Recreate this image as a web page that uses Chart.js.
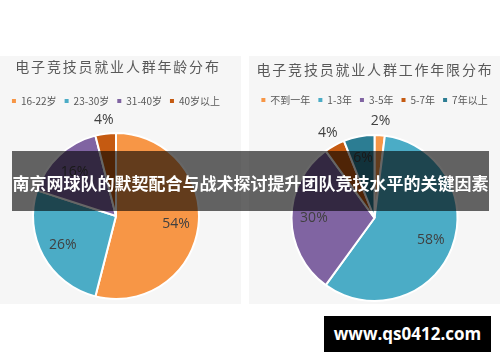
<!DOCTYPE html>
<html>
<head>
<meta charset="utf-8">
<script src="https://cdn.jsdelivr.net/npm/chart.js@4"></script>
<style>
body { margin: 0; width: 500px; height: 362px; background: #fff; position: relative; overflow: hidden; font-family: "Noto Sans CJK SC", sans-serif; }
.panel { position: absolute; top: 56px; height: 248px; background: #f6f6f6; overflow: hidden; }
#p1 { left: 0; width: 241px; }
#p2 { left: 249px; width: 251px; }
.panel canvas { position: absolute; left: 0; top: 0; }
#banner { position: absolute; left: 12px; top: 151px; width: 477px; height: 60px; padding-top: 3px; box-sizing: border-box;
  background: rgba(0,0,0,0.6); color: #fff; font-weight: bold; font-size: 17px; line-height: 57px; text-align: center; white-space: nowrap; }
#site { position: absolute; left: 324px; top: 316px; width: 167px; height: 36px; background: #000; color: #fff;
  font-family: "Open Sans", sans-serif; font-weight: bold; font-size: 17px; line-height: 36px; text-align: center; }
</style>
</head>
<body>
<div class="panel" id="p1"><canvas id="ageChart" width="241" height="260"></canvas></div>
<div class="panel" id="p2"><canvas id="yearChart" width="251" height="265"></canvas></div>
<div id="banner">南京网球队的默契配合与战术探讨提升团队竞技水平的关键因素</div>
<div id="site">www.qs0412.com</div>
<script>
// 年龄分布
const ageTitle = '电子竞技员就业人群年龄分布';
const ageLabels = ['16-22岁', '23-30岁', '31-40岁', '40岁以上'];
const ageValues = [54, 26, 16, 4];

// 工作年限分布
const yearTitle = '电子竞技员就业人群工作年限分布';
const yearLabels = ['不到一年', '1-3年', '3-5年', '5-7年', '7年以上'];
const yearValues = [2, 58, 30, 4, 6];

const ageColors = ['#F79646', '#4BACC6', '#8064A2', '#C55A11'];
const yearColors = ['#F79646', '#4BACC6', '#8064A2', '#C55A11', '#2C7D93'];

// 标题字距较宽，Chart.js 自带的 title 做不到，自己画
const spacedTitle = {
    id: 'spacedTitle',
    afterDraw(chart, args, opts) {
        const ctx = chart.ctx;
        ctx.save();
        ctx.font = '14px "Noto Sans CJK SC"';
        ctx.letterSpacing = '1.8px';
        ctx.fillStyle = '#595959';
        ctx.textAlign = 'center';
        ctx.textBaseline = 'middle';
        ctx.fillText(opts.text, opts.x, opts.y);
        ctx.restore();
    }
};

// 百分比标签：小扇区放在外面
const pctLabels = {
    id: 'pctLabels',
    afterDatasetsDraw(chart) {
        const ctx = chart.ctx;
        const meta = chart.getDatasetMeta(0);
        const values = chart.data.datasets[0].data;
        ctx.save();
        ctx.font = '14px "Open Sans"';
        ctx.fillStyle = '#404040';
        ctx.textAlign = 'center';
        ctx.textBaseline = 'middle';
        meta.data.forEach((arc, i) => {
            const p = arc.getProps(['x', 'y', 'startAngle', 'endAngle', 'outerRadius'], true);
            const mid = (p.startAngle + p.endAngle) / 2;
            const r = values[i] < 5 ? p.outerRadius * 1.17 : p.outerRadius * 0.73;
            ctx.fillText(values[i] + '%', p.x + Math.cos(mid) * r, p.y + Math.sin(mid) * r);
        });
        ctx.restore();
    }
};

function legendItems(chart) {
    const base = (Chart.overrides.pie || Chart.overrides.doughnut).plugins.legend.labels.generateLabels;
    const items = base(chart);
    items.forEach(it => { it.lineWidth = 0; });
    return items;
}

function makePie(canvasId, labels, values, colors, title, titleX, titleY, padTop, padRight) {
    const ctx = document.getElementById(canvasId).getContext('2d');
    return new Chart(ctx, {
        type: 'pie',
        data: {
            labels: labels,
            datasets: [{
                data: values,
                backgroundColor: colors,
                borderColor: '#ffffff',
                borderWidth: 2,
                radius: 83
            }]
        },
        options: {
            responsive: false,
            animation: false,
            events: [],
            layout: { padding: { top: padTop, right: padRight, left: 0, bottom: 0 } },
            plugins: {
                title: { display: false },
                tooltip: { enabled: false },
                legend: {
                    position: 'top',
                    labels: {
                        boxWidth: 4,
                        boxHeight: 4,
                        padding: 8,
                        color: '#595959',
                        font: { size: 10, family: '"Noto Sans CJK SC"' },
                        generateLabels: legendItems
                    }
                },
                spacedTitle: { text: title, x: titleX, y: titleY }
            }
        },
        plugins: [spacedTitle, pctLabels]
    });
}

makePie('ageChart', ageLabels, ageValues, ageColors, ageTitle, 118, 11, 32, 9);
makePie('yearChart', yearLabels, yearValues, yearColors, yearTitle, 126, 14, 31, 0);
</script>
</body>
</html>
